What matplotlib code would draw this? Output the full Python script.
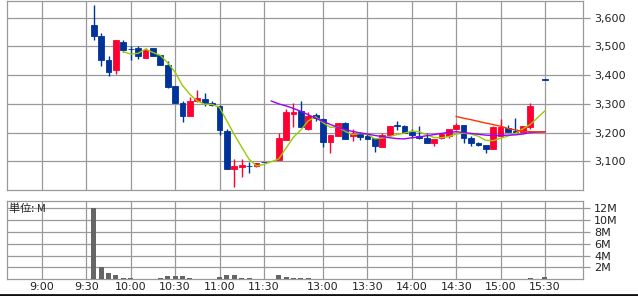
import matplotlib
matplotlib.use("Agg")
import matplotlib.pyplot as plt
from matplotlib.lines import Line2D

# 5-minute slots: 9:00 = 0, 11:30 = 30, 12:30 = 32, 13:00 = 38, 15:30 = 68
slots = [7, 8, 9, 10, 11, 12, 13, 14, 15, 16, 17, 18, 19, 20, 21, 22, 23, 24, 25, 26, 27, 28, 29, 30,
         32, 33, 34, 35, 36, 37, 38, 39, 40, 41, 42, 43, 44, 45, 46, 47, 48, 49, 50, 51, 52, 53, 54,
         55, 56, 57, 58, 59, 60, 61, 62, 63, 64, 65, 66, 68]

opens = [3574, 3538, 3454, 3417, 3516, 3492, 3495, 3459, 3493, 3469, 3436, 3363, 3304, 3258, 3310, 3316,
         3304, 3293, 3206, 3074, 3080, 3085, 3084, 3099,
         3106, 3174, 3265, 3275, 3212, 3261, 3246, 3168, 3189, 3232, 3188, 3199, 3188, 3180, 3150, 3191,
         3225, 3222, 3203, 3188, 3180, 3165, 3180, 3189, 3212, 3226, 3180, 3164, 3155, 3143, 3188, 3215,
         3206, 3201, 3221, 3385]
highs = [3643, 3547, 3468, 3524, 3524, 3503, 3501, 3495, 3493, 3469, 3448, 3363, 3310, 3325, 3349, 3337,
         3310, 3296, 3212, 3107, 3107, 3098, 3095, 3099,
         3199, 3281, 3302, 3310, 3270, 3267, 3250, 3191, 3232, 3238, 3213, 3203, 3196, 3180, 3197, 3222,
         3240, 3226, 3214, 3222, 3197, 3177, 3197, 3212, 3232, 3226, 3189, 3166, 3157, 3222, 3246, 3226,
         3250, 3224, 3302, 3385]
lows = [3524, 3431, 3398, 3405, 3480, 3452, 3456, 3459, 3466, 3434, 3355, 3302, 3238, 3258, 3308, 3293,
        3291, 3191, 3074, 3012, 3045, 3059, 3080, 3098,
        3106, 3174, 3220, 3221, 3209, 3241, 3150, 3129, 3189, 3177, 3171, 3174, 3176, 3133, 3150, 3188,
        3209, 3199, 3180, 3178, 3164, 3153, 3176, 3180, 3212, 3164, 3153, 3152, 3130, 3142, 3188, 3201,
        3201, 3201, 3211, 3384]
closes = [3536, 3452, 3410, 3524, 3487, 3491, 3466, 3487, 3466, 3434, 3360, 3302, 3258, 3311, 3320, 3303,
          3296, 3209, 3074, 3082, 3086, 3083, 3095, 3098,
          3180, 3273, 3273, 3221, 3259, 3250, 3168, 3191, 3232, 3177, 3199, 3186, 3177, 3153, 3191, 3222,
          3224, 3199, 3191, 3181, 3165, 3177, 3194, 3212, 3226, 3180, 3162, 3156, 3143, 3220, 3221, 3202,
          3201, 3222, 3293, 3384]

# volume in millions of shares
volume = [12.1, 2.1, 1.1, 0.72, 0.28, 0.28, 0.08, 0.08, 0.08, 0.28, 0.6, 0.6, 0.6, 0.28, 0.12, 0.12,
          0.08, 0.45, 0.72, 0.72, 0.15, 0.15, 0.08, 0.08,
          0.72, 0.4, 0.28, 0.28, 0.15, 0.08, 0.12, 0.12, 0.08, 0.08, 0.08, 0.08, 0.08, 0.08, 0.08, 0.08,
          0.08, 0.08, 0.08, 0.08, 0.08, 0.08, 0.08, 0.08, 0.08, 0.08, 0.08, 0.08, 0.08, 0.08, 0.12, 0.08,
          0.12, 0.08, 0.15, 0.45]

# moving averages
ma_short_slots = [11, 12, 13, 14, 15, 16, 17, 18, 19, 20, 21, 22, 23, 24, 25, 26, 27, 28, 29, 30,
                  32, 33, 34, 35, 36, 37, 38, 39, 40, 41, 42, 43, 44, 45, 46, 47, 48, 49, 50, 51, 52,
                  53, 54, 55, 56, 57, 58, 59, 60, 61, 62, 63, 64, 65, 66, 68]
ma_short = [3482, 3473, 3476, 3491, 3479, 3469, 3443, 3410, 3364, 3333, 3310, 3299, 3298, 3288, 3240,
            3193, 3149, 3107, 3084, 3089,
            3108, 3146, 3184, 3209, 3241, 3255, 3234, 3218, 3220, 3204, 3193, 3197, 3194, 3178, 3181,
            3186, 3193, 3198, 3205, 3203, 3192, 3183, 3182, 3186, 3195, 3198, 3195, 3187, 3173, 3172,
            3180, 3188, 3197, 3213, 3228, 3276]

ma_mid_slots = [31, 32, 33, 34, 35, 36, 37, 38, 39, 40, 41, 42, 43, 44, 45, 46, 47, 48, 49, 50, 51,
                52, 53, 54, 55, 56, 57, 58, 59, 60, 61, 62, 63, 64, 65, 66, 68]
ma_mid = [3310, 3300, 3293, 3284, 3274, 3262, 3250, 3239, 3228, 3218, 3210, 3204, 3199, 3195, 3190,
          3186, 3182, 3179, 3178, 3182, 3185, 3189, 3193, 3197, 3201, 3203, 3200, 3197, 3194, 3191,
          3190, 3190, 3191, 3192, 3195, 3200, 3203]

ma_long_slots = [56, 57, 58, 59, 60, 61, 62, 63, 64, 65, 66, 68]
ma_long = [3256, 3250, 3245, 3239, 3233, 3228, 3222, 3214, 3209, 3205, 3203, 3202]

tick_slots = [0, 6, 12, 18, 24, 30, 38, 44, 50, 56, 62, 68]
tick_labels = ['9:00', '9:30', '10:00', '10:30', '11:00', '11:30',
               '13:00', '13:30', '14:00', '14:30', '15:00', '15:30']
price_ticks = [3100, 3200, 3300, 3400, 3500, 3600]
vol_ticks = [2, 4, 6, 8, 10, 12]

UP = '#ff0033'
DOWN = '#003399'
GRID = '#999999'
TXT = '#222222'

plt.rcParams['font.family'] = ['DejaVu Sans']
plt.rcParams['font.size'] = 8

fig = plt.figure(figsize=(6.38, 2.96), dpi=100)
ax1 = fig.add_axes([7 / 638, 106 / 296, 576 / 638, 189.5 / 296])
ax2 = fig.add_axes([7 / 638, 16.7 / 296, 576 / 638, 78.3 / 296])

for ax in (ax1, ax2):
    ax.set_xlim(-4.73, 73.14)
    ax.set_xticks(tick_slots)
    for sp in ax.spines.values():
        sp.set_color(GRID)
        sp.set_linewidth(0.9)
    ax.grid(True, color=GRID, linewidth=0.9)
    ax.set_axisbelow(True)
    ax.yaxis.tick_right()
    ax.tick_params(axis='y', colors=GRID, length=5, width=0.9, labelcolor=TXT, labelsize=8, pad=3)
    ax.tick_params(axis='x', length=0)

# candles
colors = [UP if c > o else DOWN for o, c in zip(opens, closes)]
ax1.vlines(slots, lows, highs, colors=colors, linewidth=1.0, zorder=3)
bottoms = [min(o, c) for o, c in zip(opens, closes)]
heights = [abs(c - o) for o, c in zip(opens, closes)]
ax1.bar(slots, heights, bottom=bottoms, width=0.78, color=colors, edgecolor=colors,
        linewidth=0.6, zorder=4)

ax1.plot(ma_short_slots, ma_short, color='#99cc00', linewidth=1.0, zorder=5)
ax1.plot(ma_mid_slots, ma_mid, color='#9900ff', linewidth=1.0, zorder=5)
ax1.plot(ma_long_slots, ma_long, color='#ff3300', linewidth=1.0, zorder=5)

ax1.set_ylim(3000, 3660)
ax1.set_yticks(price_ticks)
ax1.set_yticklabels(['{:,}'.format(p) for p in price_ticks])
ax1.set_xticklabels([])

# volume
ax2.bar(slots, volume, width=0.68, color='#666666', zorder=3)
ax2.set_ylim(0, 13.2)
ax2.set_yticks(vol_ticks)
ax2.set_yticklabels(['%dM' % v for v in vol_ticks])
ax2.set_xticklabels(tick_labels, color=TXT, fontsize=8)
ax2.tick_params(axis='x', pad=2)
ax2.text(0.003, 0.97, '単位: M', transform=ax2.transAxes, ha='left', va='top',
         fontsize=8, color=TXT, family=['Noto Sans CJK JP', 'DejaVu Sans'])

fig.add_artist(Line2D([0, 1], [1.2 / 296, 1.2 / 296], color='#111111', linewidth=2.0))

plt.savefig('out.png', dpi=100)
